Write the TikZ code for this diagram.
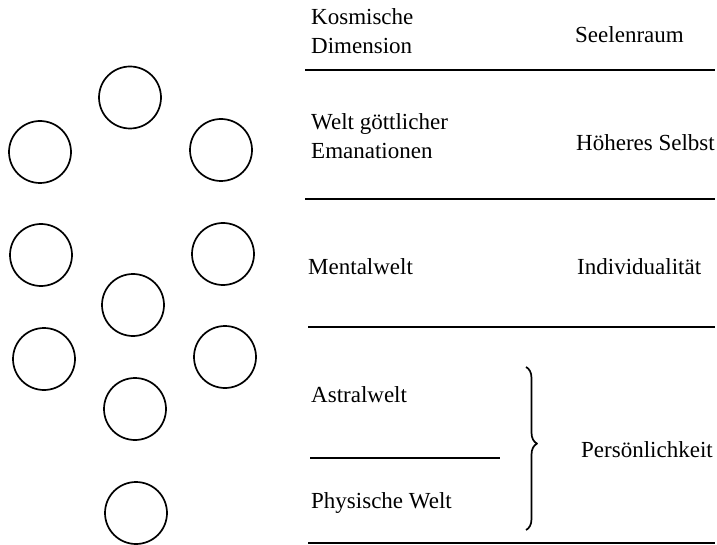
\documentclass[tikz,border=0pt]{standalone}
\usepackage{fontspec}
\setmainfont{Liberation Serif}
\usetikzlibrary{decorations.pathreplacing}

\tikzset{
  ring/.style={circle, draw, line width=1.7pt, minimum size=62pt, inner sep=0pt},
  lbl/.style={anchor=west, inner sep=0pt, align=left, font=\fontsize{23}{29}\selectfont},
  rule/.style={line width=1.9pt},
}

\begin{document}
\begin{tikzpicture}[x=1pt, y=-1pt, line cap=butt, line join=round]

  %% ════ 圆圈 ════
  \node[ring] (kreisA) at (130.0,97.5) {};
  \node[ring] (kreisB) at (40.0,152.0) {};
  \node[ring] (kreisC) at (221.0,150.0) {};
  \node[ring] (kreisD) at (41.0,255.0) {};
  \node[ring] (kreisE) at (223.0,254.0) {};
  \node[ring] (kreisF) at (133.0,305.0) {};
  \node[ring] (kreisG) at (44.0,359.0) {};
  \node[ring] (kreisH) at (225.0,357.0) {};
  \node[ring] (kreisI) at (135.0,409.0) {};
  \node[ring] (kreisJ) at (136.0,513.0) {};

  %% ════ 横线 ════
  \draw[rule] (305.0,70.0) -- (715.0,70.0);
  \draw[rule] (305.0,199.0) -- (715.0,199.0);
  \draw[rule] (308.0,327.0) -- (715.0,327.0);
  \draw[rule] (310.0,458.0) -- (500.0,458.0);
  \draw[rule] (308.0,543.0) -- (715.0,543.0);

  %% ════ 花括号 ════
  \draw[line width=1.7pt, decorate, decoration={brace, amplitude=11pt, aspect=0.47}]
    (526.0,367.0) -- (526.0,530.0);

  %% ════ 标签 ════
  \node[lbl] (kosmisch) at (311.0,31.5) {Kosmische\\Dimension};
  \node[lbl] (seele) at (575.0,35.0) {Seelenraum};
  \node[lbl] (goettlich) at (311.0,136.0) {Welt göttlicher\\Emanationen};
  \node[lbl] (selbst) at (576.0,143.0) {Höheres Selbst};
  \node[lbl] (mental) at (308.0,267.0) {Mentalwelt};
  \node[lbl] (indiv) at (577.0,267.0) {Individualität};
  \node[lbl] (astral) at (311.0,395.0) {Astralwelt};
  \node[lbl] (physisch) at (311.0,503.0) {Physische Welt};
  \node[lbl] (person) at (581.0,450.0) {Persönlichkeit};

  % 钉死画布
  \pgfresetboundingbox
  \path[use as bounding box] (0,0) rectangle (717,545);
\end{tikzpicture}
\end{document}
